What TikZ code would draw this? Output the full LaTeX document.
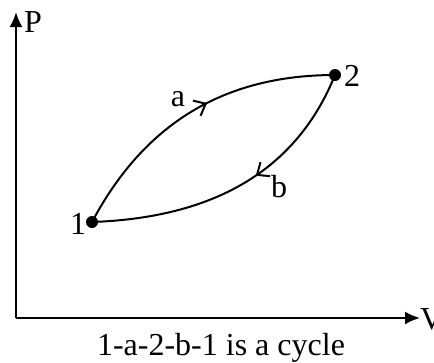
\documentclass[tikz,border=0pt]{standalone}
\usepackage{fontspec}
\setmainfont{Liberation Serif}
\usetikzlibrary{arrows.meta,decorations.markings}
\begin{document}
\begin{tikzpicture}[x=1pt,y=-1pt,
  lbl/.style={font=\fontsize{32}{37}\selectfont, inner sep=0pt},
  axis/.style={line width=2.2pt,-{Latex[length=15pt,width=13pt]}},
  curve/.style={line width=2pt},
  dot/.style={circle,fill=black,minimum size=12pt,inner sep=0pt},
  midarrow/.style={postaction={decorate},decoration={markings,
     mark=at position #1 with {\arrow{Straight Barb[length=10pt,width=17pt,line width=2pt]}}}}]
\useasboundingbox (0,0) rectangle (434,362);
\coordinate (O) at (16,318);
\coordinate (Ytip) at (16,12);
\coordinate (Xtip) at (420,318);
\draw[axis] (O) -- (Ytip);
\draw[axis] (O) -- (Xtip);
\node[lbl, anchor=west] (P) at (24,22) {P};
\node[lbl, anchor=west] (V) at (420,319) {V};
\node[dot] (p1) at (92,222) {};
\node[dot] (p2) at (335,75) {};
\draw[curve, midarrow=0.56] (p1.center) to[out=62,in=180] (p2.center);
\draw[curve, midarrow=0.43] (p2.center) to[out=-112,in=2] (p1.center);
\node[lbl] (l1) at (78,224) {1};
\node[lbl] (l2) at (352,76) {2};
\node[lbl] (la) at (178,99) {a};
\node[lbl] (lb) at (279,187) {b};
\node[lbl, anchor=base] (cap) at (221,355) {1-a-2-b-1 is a cycle};
\end{tikzpicture}
\end{document}
